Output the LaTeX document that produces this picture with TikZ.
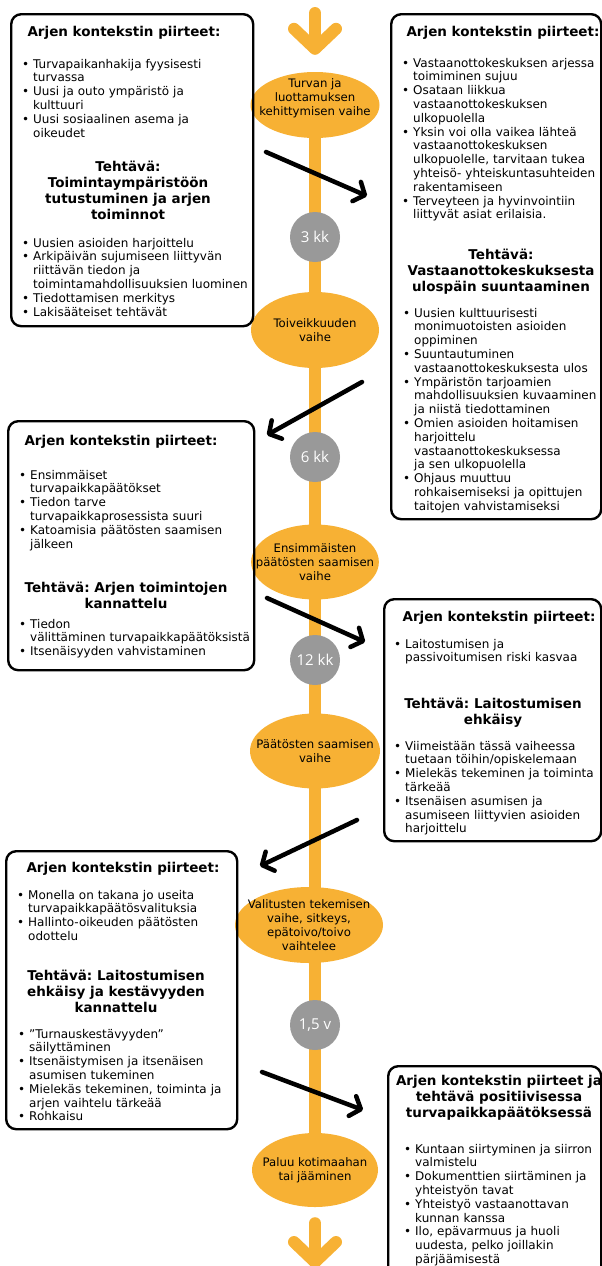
\documentclass[tikz,border=0pt]{standalone}
\usepackage{fontspec}
\setmainfont{DejaVu Sans}
\newfontfamily\numfont{Open Sans}
\usetikzlibrary{arrows.meta,shapes.geometric,backgrounds}
\definecolor{phaseorange}{RGB}{247,177,52}
\definecolor{milegrey}{RGB}{153,153,153}
\frenchspacing
\newcommand{\itm}[1]{\par\hangindent=11pt\hangafter=1\noindent\hbox to 11pt{\strut\textbullet\hfil}{\let\\\newline#1}\par}

\begin{document}
\begin{tikzpicture}[x=1pt,y=-1pt,
    infobox/.style={draw,line width=2.4pt,rounded corners=10pt,anchor=north west,inner sep=0pt},
    boxhead/.style={anchor=north,inner sep=0pt,align=center,yshift=6pt,
      font=\bfseries\frenchspacing\fontsize{13.5}{16}\selectfont},
    bodylist/.style={anchor=north west,inner sep=0pt,text width=#1,align=left,yshift=8pt,
      font=\frenchspacing\fontsize{12}{13.8}\selectfont},
    phase/.style={ellipse,fill=phaseorange,inner xsep=-14pt,inner ysep=-4pt,align=center,
      font=\fontsize{11.7}{14}\selectfont},
    phasetext/.style={inner sep=0pt,align=center,font=\fontsize{11.7}{14}\selectfont},
    milestone/.style={circle,fill=milegrey,minimum size=50pt,inner sep=0pt,text=white,
      font=\numfont\fontsize{15}{18}\selectfont},
    timeline/.style={line width=12pt,draw=phaseorange},
    flow/.style={-{Straight Barb[round,length=20pt,width=42pt]},line width=12pt,line cap=round,draw=phaseorange},
    jump/.style={-{Straight Barb[round,length=9pt,width=21pt]},line width=4.5pt,line cap=round}]

    \useasboundingbox (0,0) rectangle (602,1266);
    \clip (0,0) rectangle (602,1266);

    \node[phase,minimum width=129pt,minimum height=66pt] (ph1) at (315,105) {};
    \node[phasetext] (ph1text) at ([yshift=7pt]ph1.center)
      {Turvan ja\\luottamuksen\\kehittymisen vaihe};
    \node[milestone] (m1) at (315,237) {3 kk};
    \node[phase,minimum width=128pt,minimum height=76pt] (ph2) at (315,330)
      {Toiveikkuuden\\vaihe};
    \node[milestone] (m2) at (315,457) {6 kk};
    \node[phase,minimum width=126pt,minimum height=75pt] (ph3) at (315,562)
      {Ensimmäisten\\päätösten saamisen\\vaihe};
    \node[milestone] (m3) at (315,660) {12 kk};
    \node[phase,minimum width=130pt,minimum height=75pt] (ph4) at (315,751)
      {Päätösten saamisen\\vaihe};
    \node[phase,minimum width=148pt,minimum height=76pt] (ph5) at (309,925)
      {Valitusten tekemisen\\vaihe, sitkeys,\\epätoivo/toivo\\vaihtelee};
    \node[milestone] (m4) at (315,1025) {1,5 v};
    \node[phase,minimum width=126pt,minimum height=74pt] (ph6) at (315,1170)
      {Paluu kotimaahan\\tai jääminen};

    \begin{scope}[on background layer]
      \draw[timeline] (ph1) -- (ph6);
    \end{scope}

    \coordinate (begin) at (315,13);
    \coordinate (finish) at (315,1268);
    \draw[flow,shorten >=17pt] (begin) -- (ph1.north);
    \draw[flow,shorten <=16pt] (ph6.south) -- (finish);

    \node[infobox,minimum width=242pt,minimum height=312pt] (ctx1) at (10,13) {};
    \node[boxhead] (ctx1head) at (124,31) {\strut Arjen kontekstin piirteet:};
    \node[bodylist=240pt] (ctx1list) at (22,62)
      {\itm{Turvapaikanhakija fyysisesti\\turvassa}
       \itm{Uusi ja outo ympäristö ja\\kulttuuri}
       \itm{Uusi sosiaalinen asema ja\\oikeudet}};
    \node[boxhead] (ctx1task) at (128,166)
      {\strut Tehtävä:\\Toimintaympäristöön\\tutustuminen ja arjen\\toiminnot};
    \node[bodylist=240pt] (ctx1todo) at (22,241)
      {\itm{Uusien asioiden harjoittelu}
       \itm{Arkipäivän sujumiseen liittyvän\\riittävän tiedon ja\\toimintamahdollisuuksien luominen}
       \itm{Tiedottamisen merkitys}
       \itm{Lakisääteiset tehtävät}};

    \node[infobox,minimum width=210pt,minimum height=505pt] (ctx2) at (390,13) {};
    \node[boxhead] (ctx2head) at (503,31) {\strut Arjen kontekstin piirteet:};
    \node[bodylist=200pt] (ctx2list) at (402,61)
      {\itm{Vastaanottokeskuksen arjessa\\toimiminen sujuu}
       \itm{Osataan liikkua\\vastaanottokeskuksen\\ulkopuolella}
       \itm{Yksin voi olla vaikea lähteä\\vastaanottokeskuksen\\ulkopuolelle, tarvitaan tukea\\yhteisö- yhteiskuntasuhteiden\\rakentamiseen}
       \itm{Terveyteen ja hyvinvointiin\\liittyvät asiat erilaisia.}};
    \node[boxhead] (ctx2task) at (501,254)
      {\strut Tehtävä:\\Vastaanottokeskuksesta\\ulospäin suuntaaminen};
    \node[bodylist=200pt] (ctx2todo) at (403,311)
      {\itm{Uusien kulttuurisesti\\monimuotoisten asioiden\\oppiminen}
       \itm{Suuntautuminen\\vastaanottokeskuksesta ulos}
       \itm{Ympäristön tarjoamien\\mahdollisuuksien kuvaaminen\\ja niistä tiedottaminen}
       \itm{Omien asioiden hoitamisen\\harjoittelu\\vastaanottokeskuksessa\\ja sen ulkopuolella}
       \itm{Ohjaus muuttuu\\rohkaisemiseksi ja opittujen\\taitojen vahvistamiseksi}};

    \node[infobox,minimum width=246pt,minimum height=249pt] (ctx3) at (7,420) {};
    \node[boxhead] (ctx3head) at (121,440) {\strut Arjen kontekstin piirteet:};
    \node[bodylist=240pt] (ctx3list) at (19,473)
      {\itm{Ensimmäiset\\turvapaikkapäätökset}
       \itm{Tiedon tarve\\turvapaikkaprosessista suuri}
       \itm{Katoamisia päätösten saamisen\\jälkeen}};
    \node[boxhead] (ctx3task) at (126,587)
      {\strut Tehtävä: Arjen toimintojen\\kannattelu};
    \node[bodylist=240pt] (ctx3todo) at (19,622)
      {\itm{Tiedon\\välittäminen turvapaikkapäätöksistä}
       \itm{Itsenäisyyden vahvistaminen}};

    \node[infobox,minimum width=217pt,minimum height=242pt] (ctx4) at (383,598) {};
    \node[boxhead] (ctx4head) at (499,616) {\strut Arjen kontekstin piirteet:};
    \node[bodylist=205pt] (ctx4list) at (394,642)
      {\itm{Laitostumisen ja\\passivoitumisen riski kasvaa}};
    \node[boxhead] (ctx4task) at (493,703)
      {\strut Tehtävä: Laitostumisen\\ehkäisy};
    \node[bodylist=205pt] (ctx4todo) at (394,744)
      {\itm{Viimeistään tässä vaiheessa\\tuetaan töihin/opiskelemaan}
       \itm{Mielekäs tekeminen ja toiminta\\tärkeää}
       \itm{Itsenäisen asumisen ja\\asumiseen liittyvien asioiden\\harjoittelu}};

    \node[infobox,minimum width=231pt,minimum height=278pt] (ctx5) at (5,850) {};
    \node[boxhead] (ctx5head) at (123,867) {\strut Arjen kontekstin piirteet:};
    \node[bodylist=225pt] (ctx5list) at (17,893)
      {\itm{Monella on takana jo useita\\turvapaikkapäätösvalituksia}
       \itm{Hallinto-oikeuden päätösten\\odottelu}};
    \node[boxhead] (ctx5task) at (116,975)
      {\strut Tehtävä: Laitostumisen\\ehkäisy ja kestävyyden\\kannattelu};
    \node[bodylist=225pt] (ctx5todo) at (18,1032)
      {\itm{”Turnauskestävyyden”\\säilyttäminen}
       \itm{Itsenäistymisen ja itsenäisen\\asumisen tukeminen}
       \itm{Mielekäs tekeminen, toiminta ja\\arjen vaihtelu tärkeää}
       \itm{Rohkaisu}};

    \node[infobox,minimum width=213pt,minimum height=240pt] (ctx6) at (387,1065) {};
    \node[boxhead] (ctx6head) at (499,1080)
      {\strut Arjen kontekstin piirteet ja\\tehtävä positiivisessa\\turvapaikkapäätöksessä};
    \node[bodylist=200pt] (ctx6list) at (404,1147)
      {\itm{Kuntaan siirtyminen ja siirron\\valmistelu}
       \itm{Dokumenttien siirtäminen ja\\yhteistyön tavat}
       \itm{Yhteistyö vastaanottavan\\kunnan kanssa}
       \itm{Ilo, epävarmuus ja huoli\\uudesta, pelko joillakin\\pärjäämisestä}};

    \coordinate (jump1from) at (266,152);
    \coordinate (jump1to) at (367,196);
    \coordinate (jump2from) at (362,382);
    \coordinate (jump2to) at (267,435);
    \coordinate (jump3from) at (267,598);
    \coordinate (jump3to) at (365,642);
    \coordinate (jump4from) at (357,820);
    \coordinate (jump4to) at (260,866);
    \coordinate (jump5from) at (262,1072);
    \coordinate (jump5to) at (363,1110);
    \draw[jump] (jump1from) -- (jump1to);
    \draw[jump] (jump2from) -- (jump2to);
    \draw[jump] (jump3from) -- (jump3to);
    \draw[jump] (jump4from) -- (jump4to);
    \draw[jump] (jump5from) -- (jump5to);
  \end{tikzpicture}
\end{document}
